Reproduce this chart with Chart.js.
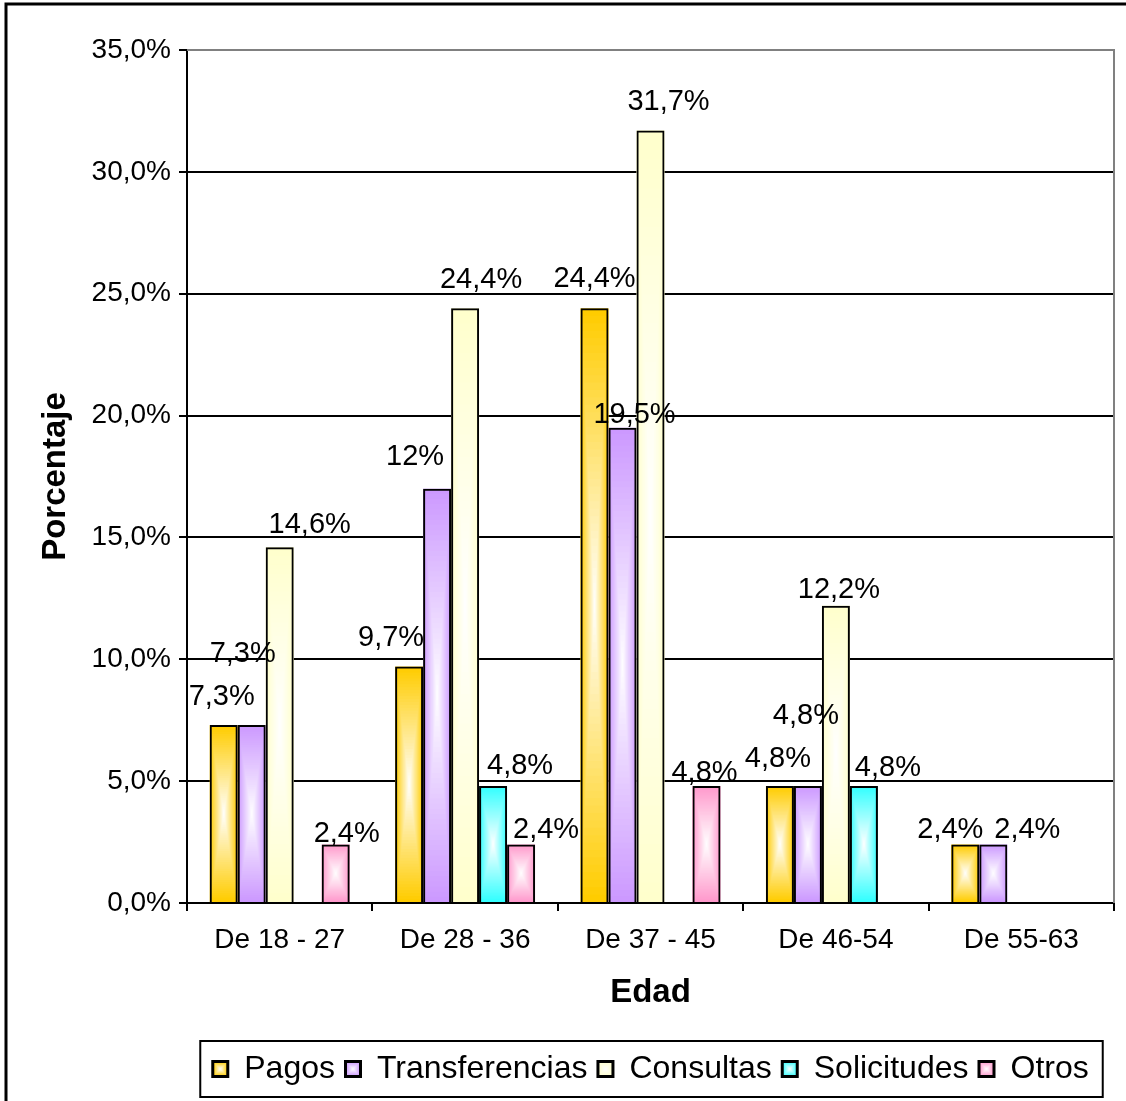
<!DOCTYPE html>
<html>
<head>
<meta charset="utf-8">
<script src="https://cdn.jsdelivr.net/npm/chart.js@4/dist/chart.umd.min.js"></script>
<style>
  html, body { margin: 0; padding: 0; background: #fff; }
  #wrap { width: 1126px; height: 1101px; position: relative; }
</style>
</head>
<body>
<div id="wrap"><canvas id="edadChart" width="1126" height="1101"></canvas></div>
<script>
const categories = ["De 18 - 27", "De 28 - 36", "De 37 - 45", "De 46-54", "De 55-63"];
const seriesNames = ["Pagos", "Transferencias", "Consultas", "Solicitudes", "Otros"];

const pagos = [7.3, 9.7, 24.4, 4.8, 2.4];
const transferencias = [7.3, 17.0, 19.5, 4.8, 2.4];
const consultas = [14.6, 24.4, 31.7, 12.2, null];
const solicitudes = [null, 4.8, null, 4.8, null];
const otros = [2.4, 2.4, 4.8, null, null];

// label text as printed on the original (one of them does not match its bar)
const pagosLabels = ["7,3%", "9,7%", "24,4%", "4,8%", "2,4%"];
const transferenciasLabels = ["7,3%", "12%", "19,5%", "4,8%", "2,4%"];
const consultasLabels = ["14,6%", "24,4%", "31,7%", "12,2%", null];
const solicitudesLabels = [null, "4,8%", null, "4,8%", null];
const otrosLabels = ["2,4%", "2,4%", "4,8%", null, null];

const yTicks = [0, 5, 10, 15, 20, 25, 30, 35];

const seriesValues = [pagos, transferencias, consultas, solicitudes, otros];
const seriesLabels = [pagosLabels, transferenciasLabels, consultasLabels, solicitudesLabels, otrosLabels];
const colors = ["#FFCC00", "#CC99FF", "#FFFFCC", "#33FFFF", "#FF99CC"];

// manual nudges of the data labels (dx, dy from bar top centre)
const labelShift = [
  [[-2, -28], [-18, -29], [0, -29], [-2, -27], [-15, -15]],
  [[-9, -71], [-22, -32], [12, -13], [-2, -70], [34, -15]],
  [[30, -22], [16, -28], [18, -28], [3, -16], [0, 0]],
  [[0, 0], [27, -20], [0, 0], [24, -18], [0, 0]],
  [[11, -11], [25, -15], [-2, -13], [0, 0], [0, 0]]
];

const FONT = "'Liberation Sans', Arial, sans-serif";

function mix(hex, t) {
  const r = parseInt(hex.slice(1, 3), 16), g = parseInt(hex.slice(3, 5), 16), b = parseInt(hex.slice(5, 7), 16);
  const m = c => Math.round(255 + (c - 255) * t);
  return `rgb(${m(r)},${m(g)},${m(b)})`;
}

// excel-like "from centre" rectangle gradient
function fillBar(ctx, left, top, w, h, color) {
  const cx = left + w / 2, cy = top + h / 2;
  const n = 40;
  for (let i = n; i >= 1; i--) {
    const t = i / n;
    ctx.fillStyle = mix(color, t);
    ctx.fillRect(cx - w * t / 2, cy - h * t / 2, w * t, h * t);
  }
}

const barFill = {
  id: "barFill",
  beforeDatasetsDraw(chart) {
    const ctx = chart.ctx;
    ctx.save();
    chart.data.datasets.forEach((ds, di) => {
      const meta = chart.getDatasetMeta(di);
      meta.data.forEach((el, i) => {
        if (ds.data[i] == null) return;
        const p = el.getProps(["x", "y", "base", "width"], true);
        fillBar(ctx, p.x - p.width / 2, p.y, p.width, p.base - p.y, colors[di]);
      });
    });
    ctx.restore();
  }
};

const barLabels = {
  id: "barLabels",
  afterDatasetsDraw(chart) {
    const ctx = chart.ctx;
    ctx.save();
    ctx.font = "29px " + FONT;
    ctx.fillStyle = "#000";
    ctx.textAlign = "center";
    ctx.textBaseline = "middle";
    chart.data.datasets.forEach((ds, di) => {
      const meta = chart.getDatasetMeta(di);
      meta.data.forEach((el, i) => {
        const txt = seriesLabels[di][i];
        if (ds.data[i] == null || !txt) return;
        const p = el.getProps(["x", "y"], true);
        const s = labelShift[di][i];
        ctx.fillText(txt, p.x + s[0], p.y + s[1]);
      });
    });
    ctx.restore();
  }
};

const frames = {
  id: "frames",
  afterDraw(chart) {
    const ctx = chart.ctx;
    const a = chart.chartArea;
    ctx.save();
    // plot area top / right in grey
    ctx.strokeStyle = "#808080";
    ctx.lineWidth = 2;
    ctx.beginPath();
    ctx.moveTo(a.left, a.top);
    ctx.lineTo(a.right, a.top);
    ctx.lineTo(a.right, a.bottom);
    ctx.stroke();
    // outer chart border (runs off the picture on the right and bottom)
    ctx.strokeStyle = "#000";
    ctx.lineWidth = 3;
    ctx.strokeRect(6, 4, 1200, 1200);
    // legend frame and small gradient markers
    const hb = chart.legend.legendHitBoxes;
    if (hb && hb.length) {
      const l = Math.min(...hb.map(b => b.left)) - 12;
      const r = Math.max(...hb.map(b => b.left + b.width)) + 14;
      const t = hb[0].top - 12;
      const h = hb[0].height + 24;
      ctx.lineWidth = 2;
      ctx.strokeRect(l, t, r - l, h);
      hb.forEach((b, i) => {
        const bx = b.left, by = b.top + (b.height - 16) / 2;
        fillBar(ctx, bx + 1, by + 1, 14, 14, colors[i]);
        ctx.strokeStyle = "#000";
        ctx.strokeRect(bx + 1, by + 1, 14, 14);
      });
    }
    ctx.restore();
  }
};

const chart = new Chart(document.getElementById("edadChart"), {
  type: "bar",
  data: {
    labels: categories,
    datasets: seriesNames.map((name, i) => ({
      label: name,
      data: seriesValues[i],
      backgroundColor: "rgba(0,0,0,0)",
      borderColor: "#000",
      borderWidth: 2,
      categoryPercentage: 0.755,
      barPercentage: 1.0
    }))
  },
  options: {
    responsive: false,
    animation: false,
    devicePixelRatio: 1,
    layout: { padding: { left: 0, top: 50, right: 12, bottom: 6 } },
    plugins: {
      tooltip: { enabled: false },
      legend: {
        position: "bottom",
        fullSize: false,
        labels: {
          font: { family: FONT, size: 32 },
          color: "#000",
          boxWidth: 16,
          boxHeight: 16,
          padding: 10,
          generateLabels: (c) => c.data.datasets.map((ds, i) => ({
            text: ds.label,
            fillStyle: colors[i],
            strokeStyle: "#000",
            lineWidth: 2,
            datasetIndex: i
          }))
        }
      }
    },
    scales: {
      x: {
        grid: { drawOnChartArea: false, offset: true, color: "#000", lineWidth: 2, tickLength: 8 },
        border: { color: "#000", width: 2 },
        ticks: { font: { family: FONT, size: 28 }, color: "#000", padding: 12, maxRotation: 0 },
        title: { display: true, text: "Edad", font: { family: FONT, size: 33, weight: "bold" }, color: "#000", padding: { top: 10, bottom: 30 } },
        afterFit: s => { s.height = 140; }
      },
      y: {
        min: 0,
        max: 35,
        afterBuildTicks: s => { s.ticks = yTicks.map(v => ({ value: v })); },
        grid: { color: "#000", lineWidth: 2, tickLength: 8 },
        border: { color: "#000", width: 2 },
        ticks: {
          font: { family: FONT, size: 28 },
          color: "#000",
          padding: 8,
          callback: v => v.toFixed(1).replace(".", ",") + "%"
        },
        title: { display: true, text: "Porcentaje", font: { family: FONT, size: 33, weight: "bold" }, color: "#000", padding: { top: 36, bottom: 0 } },
        afterFit: s => { s.width = 187; }
      }
    }
  },
  plugins: [barFill, barLabels, frames]
});
</script>
</body>
</html>
